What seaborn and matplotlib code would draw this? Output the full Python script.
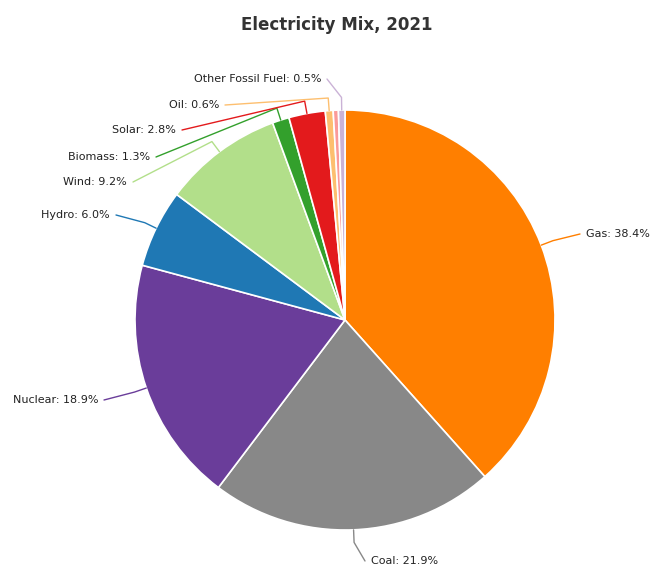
import numpy as np
import matplotlib
matplotlib.use("Agg")
import matplotlib.pyplot as plt
import seaborn as sns

sns.set_theme(style="white")
plt.rcParams['font.family'] = ['DejaVu Sans']

categories = ["Gas", "Coal", "Nuclear", "Hydro", "Wind", "Biomass", "Solar", "Oil", "Other Renewables", "Other Fossil Fuel"]
values = [38.4, 21.9, 18.9, 6.0, 9.2, 1.3, 2.8, 0.6, 0.4, 0.5]
show_label = [True, True, True, True, True, True, True, True, False, True]
colors = ["#ff7f00", "#888888", "#6a3d9a", "#1f78b4", "#b2df8a", "#33a02c",
          "#e31a1c", "#fdbf6f", "#fb9a99", "#cab2d6"]

# label anchor positions in pixels (x, y, ha)
label_pos = {
    "Gas": (586, 234, "left"),
    "Coal": (371, 561, "left"),
    "Nuclear": (98, 400, "right"),
    "Hydro": (110, 215, "right"),
    "Wind": (127, 182, "right"),
    "Biomass": (150, 157, "right"),
    "Solar": (176, 130, "right"),
    "Oil": (219, 105, "right"),
    "Other Fossil Fuel": (321, 79, "right"),
}

W, H = 650, 567
CX, CY, R = 345, 320, 210

def px(x, y):
    return ((x - CX) / R, (CY - y) / R)

fig = plt.figure(figsize=(W / 100, H / 100), dpi=100)
ax = fig.add_axes([0, 0, 1, 1])
wedges, _ = ax.pie(values, colors=colors, startangle=90, counterclock=False,
                   wedgeprops=dict(edgecolor="white", linewidth=1.2))
ax.set_xlim(-CX / R, (W - CX) / R)
ax.set_ylim(-(H - CY) / R, CY / R)
ax.set_aspect("equal")
ax.axis("off")

for w, cat, val, show, col in zip(wedges, categories, values, show_label, colors):
    if not show:
        continue
    mid = np.deg2rad((w.theta1 + w.theta2) / 2)
    edge = (np.cos(mid), np.sin(mid))
    elbow = (1.06 * np.cos(mid), 1.06 * np.sin(mid))
    lx, ly, ha = label_pos[cat]
    tx, ty = px(lx, ly)
    off = 6 / R
    start = (tx + off, ty) if ha == "right" else (tx - off, ty)
    ax.plot([start[0], elbow[0], edge[0]], [start[1], elbow[1], edge[1]],
            color=col, lw=1.0, solid_capstyle="round", solid_joinstyle="round")
    ax.text(tx, ty, f"{cat}: {val:.1f}%", ha=ha, va="center", fontsize=8,
            color="#222222")

fig.text(337 / W, 1 - 25 / H, "Electricity Mix, 2021", ha="center", va="center",
         fontsize=12, color="#333333", fontweight="semibold")

fig.savefig("out.png", dpi=100, facecolor="white")
